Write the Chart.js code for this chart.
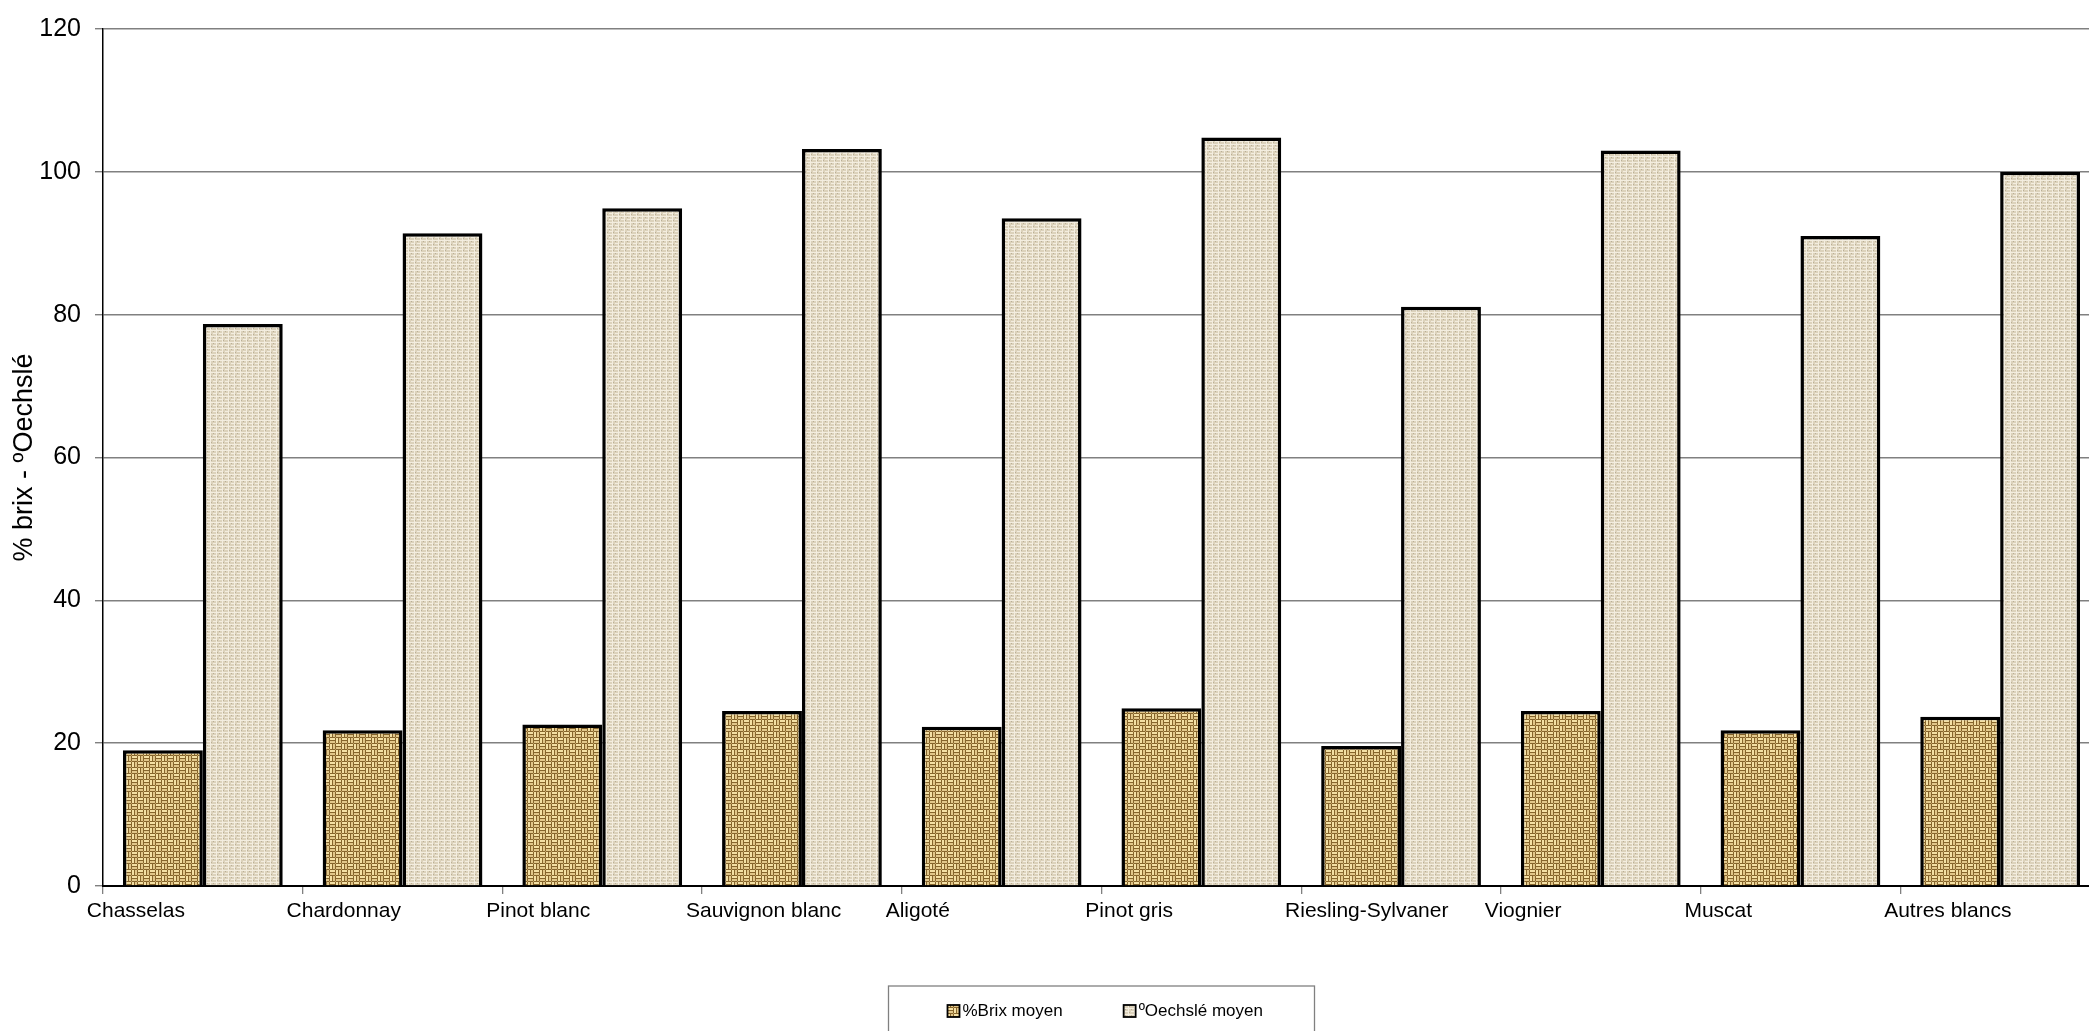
<!DOCTYPE html>
<html lang="fr">
<head>
<meta charset="utf-8">
<title>% brix - °Oechslé par cépage</title>
<script src="https://cdn.jsdelivr.net/npm/chart.js@4.4.1/dist/chart.umd.min.js"></script>
<style>
    html, body { margin: 0; padding: 0; background: #fff; overflow: hidden; }
    #wrap { width: 2100px; height: 1031px; }
</style>
</head>
<body>
<div id="wrap"><canvas id="brixChart" width="2100" height="1031"></canvas></div>
<script>
// Chart data
const cepages = ['Chasselas', 'Chardonnay', 'Pinot blanc', 'Sauvignon blanc', 'Aligoté',
    'Pinot gris', 'Riesling-Sylvaner', 'Viognier', 'Muscat', 'Autres blancs'];
const brixMoyen = [19.0, 21.8, 22.6, 24.5, 22.3, 24.9, 19.6, 24.5, 21.8, 23.7];
const oechsleMoyen = [78.7, 91.4, 94.9, 103.2, 93.5, 104.8, 81.1, 103.0, 91.0, 100.0];
const yTickValues = [0, 20, 40, 60, 80, 100, 120];

const FONT = "'Liberation Sans', Arial, Helvetica, sans-serif";

/**
 * Small woven textures for the bars (burlap / linen look)
 */
function makeBurlap() {
    const c = document.createElement('canvas');
    c.width = 12; c.height = 12;
    const g = c.getContext('2d');
    g.fillStyle = '#86652c';
    g.fillRect(0, 0, 12, 12);
    for (let by = 0; by < 2; by++) {
        for (let bx = 0; bx < 2; bx++) {
            const ox = bx * 6, oy = by * 6;
            if ((bx + by) % 2 === 0) {
                g.fillStyle = '#f4e0a4';
                g.fillRect(ox, oy, 5, 2);
                g.fillStyle = '#e2c78a';
                g.fillRect(ox, oy + 3, 5, 2);
            } else {
                g.fillStyle = '#f4e0a4';
                g.fillRect(ox, oy, 2, 5);
                g.fillStyle = '#e2c78a';
                g.fillRect(ox + 3, oy, 2, 5);
            }
            g.fillStyle = '#bc9b5c';
            g.fillRect(ox + 5, oy + 5, 1, 1);
        }
    }
    return g.createPattern(c, 'repeat');
}

function makeLinen() {
    const c = document.createElement('canvas');
    c.width = 6; c.height = 6;
    const g = c.getContext('2d');
    g.fillStyle = '#dcd2bb';
    g.fillRect(0, 0, 6, 6);
    g.fillStyle = '#f3eddf';
    g.fillRect(0, 0, 6, 1);
    g.fillRect(0, 0, 1, 6);
    g.fillRect(3, 3, 3, 1);
    g.fillStyle = '#b9ae96';
    g.fillRect(3, 1, 1, 1);
    g.fillRect(1, 4, 1, 1);
    return g.createPattern(c, 'repeat');
}

/**
 * Framed legend under the plot, as in the original sheet
 */
const boxLegend = {
    id: 'boxLegend',
    afterDraw(chart) {
        const { ctx, chartArea } = chart;
        const cx = (chartArea.left + chartArea.right) / 2;
        const top = 986;
        ctx.save();
        ctx.strokeStyle = '#808080';
        ctx.lineWidth = 1.3;
        ctx.strokeRect(cx - 213, top, 426, 70);
        ctx.font = '17px ' + FONT;
        ctx.textBaseline = 'middle';
        ctx.textAlign = 'left';
        let x = cx - 154;
        chart.data.datasets.forEach(ds => {
            ctx.fillStyle = ds.backgroundColor;
            ctx.fillRect(x, top + 19, 12, 12);
            ctx.strokeStyle = '#000';
            ctx.lineWidth = 1.8;
            ctx.strokeRect(x, top + 19, 12, 12);
            ctx.fillStyle = '#000';
            ctx.fillText(ds.label, x + 15, top + 25);
            x += 15 + ctx.measureText(ds.label).width + 61;
        });
        ctx.restore();
    }
};

new Chart(document.getElementById('brixChart'), {
    type: 'bar',
    data: {
        labels: cepages,
        datasets: [{
            label: '%Brix moyen',
            data: brixMoyen,
            backgroundColor: makeBurlap(),
            borderColor: '#000',
            borderWidth: 3.5,
            categoryPercentage: 0.8,
            barPercentage: 1.0
        }, {
            label: 'ºOechslé moyen',
            data: oechsleMoyen,
            backgroundColor: makeLinen(),
            borderColor: '#000',
            borderWidth: 3.5,
            categoryPercentage: 0.8,
            barPercentage: 1.0
        }]
    },
    options: {
        responsive: false,
        animation: false,
        devicePixelRatio: 1,
        layout: {
            padding: { top: 24, right: 0, bottom: 85, left: 0 }
        },
        plugins: {
            legend: { display: false },
            tooltip: { enabled: false }
        },
        scales: {
            x: {
                offset: true,
                grid: {
                    offset: true,
                    drawOnChartArea: false,
                    drawTicks: true,
                    tickLength: 8,
                    color: '#808080',
                    lineWidth: 1.3
                },
                border: { color: '#000', width: 2 },
                ticks: {
                    autoSkip: false,
                    maxRotation: 0,
                    minRotation: 0,
                    align: 'start',
                    labelOffset: -116,
                    padding: 5,
                    color: '#000',
                    font: { family: FONT, size: 21 }
                },
                afterFit(scale) {
                    // labels hang to the left of each category, no extra side padding
                    scale.height = 60;
                    scale.paddingLeft = 0;
                    scale.paddingRight = 0;
                }
            },
            y: {
                min: 0,
                max: 120,
                afterBuildTicks(scale) {
                    scale.ticks = yTickValues.map(v => ({ value: v }));
                },
                grid: {
                    color: '#808080',
                    lineWidth: 1.4,
                    tickLength: 8
                },
                border: { color: '#000', width: 1.5 },
                ticks: {
                    padding: 14,
                    color: '#000',
                    font: { family: FONT, size: 25 }
                },
                title: {
                    display: true,
                    text: '% brix - ºOechslé',
                    color: '#000',
                    padding: { top: 8, bottom: 0 },
                    font: { family: FONT, size: 27 }
                },
                afterFit(scale) { scale.width = 103; }
            }
        }
    },
    plugins: [boxLegend]
});
</script>
</body>
</html>
